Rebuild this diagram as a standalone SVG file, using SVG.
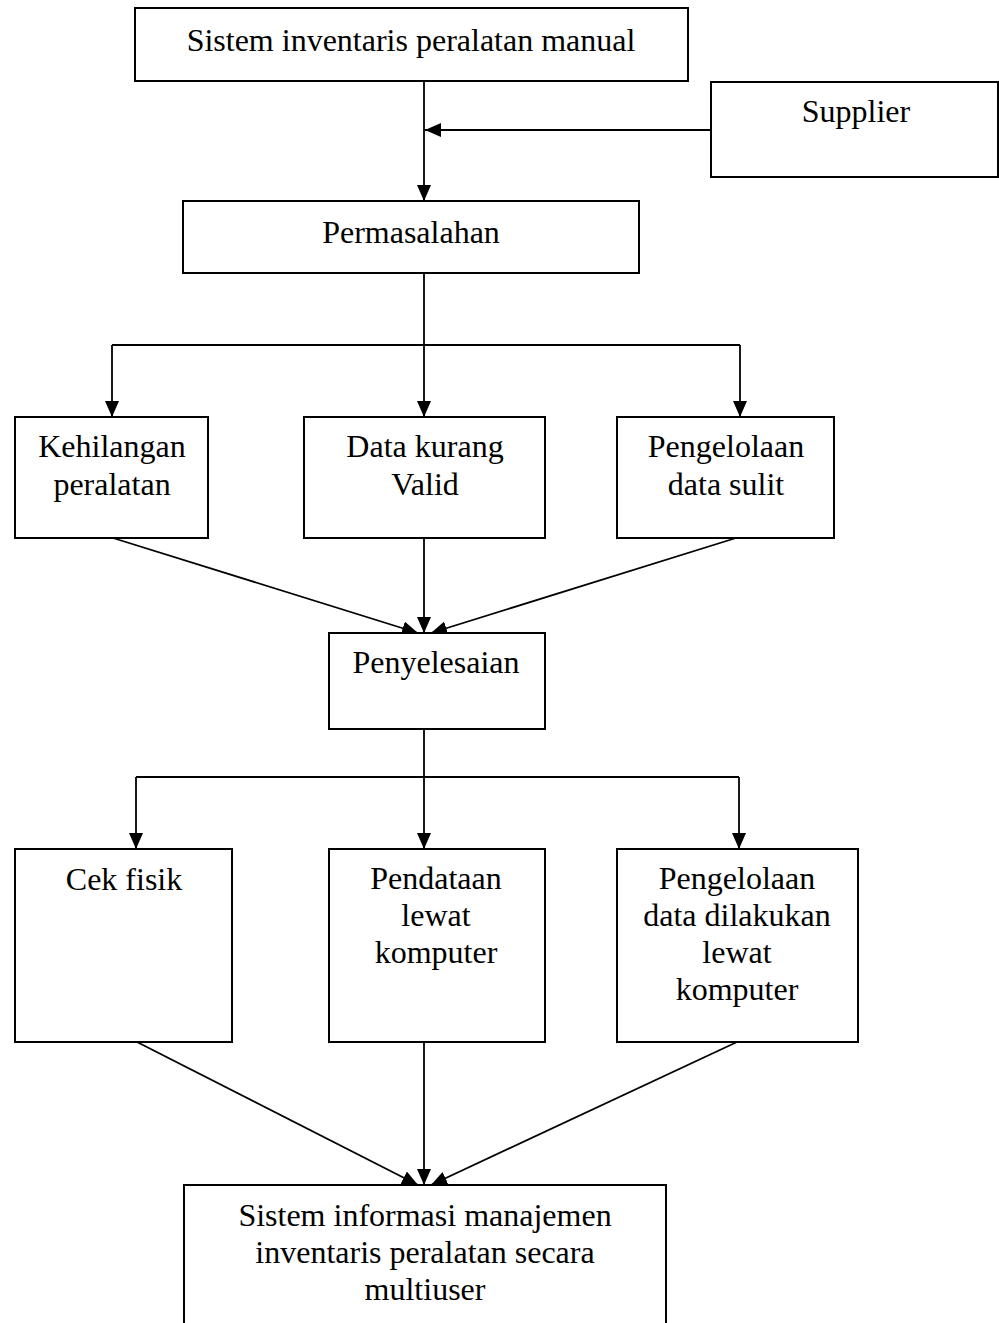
<svg xmlns="http://www.w3.org/2000/svg" width="999" height="1323" viewBox="0 0 999 1323">
<style>
.box{fill:#fff;stroke:#000;stroke-width:2}
.t{font-family:"Liberation Serif","Times New Roman",serif;font-size:32px;fill:#000;text-anchor:middle}
.c{fill:none;stroke:#000;stroke-width:1.8}
</style>
<defs>
<marker id="ah" markerUnits="userSpaceOnUse" markerWidth="18" markerHeight="16" refX="16" refY="7" orient="auto" viewBox="0 0 18 16">
<path d="M0,0 L16,7 L0,14 z" fill="#000"/>
</marker>
</defs>
<rect width="999" height="1323" fill="#fff"/>
<g id="connectors">
<line class="c" x1="424" y1="81" x2="424" y2="201" marker-end="url(#ah)"/>
<line class="c" x1="711" y1="130" x2="425" y2="130" marker-end="url(#ah)"/>
<line class="c" x1="424" y1="273" x2="424" y2="345"/>
<line class="c" x1="112" y1="345" x2="740" y2="345"/>
<line class="c" x1="112" y1="345" x2="112" y2="417" marker-end="url(#ah)"/>
<line class="c" x1="424" y1="345" x2="424" y2="417" marker-end="url(#ah)"/>
<line class="c" x1="740" y1="345" x2="740" y2="417" marker-end="url(#ah)"/>
<line class="c" x1="113" y1="538" x2="418" y2="633" marker-end="url(#ah)"/>
<line class="c" x1="424" y1="538" x2="424" y2="633" marker-end="url(#ah)"/>
<line class="c" x1="736" y1="538" x2="431" y2="633" marker-end="url(#ah)"/>
<line class="c" x1="424" y1="729" x2="424" y2="777"/>
<line class="c" x1="136" y1="777" x2="739" y2="777"/>
<line class="c" x1="136" y1="777" x2="136" y2="849" marker-end="url(#ah)"/>
<line class="c" x1="424" y1="777" x2="424" y2="849" marker-end="url(#ah)"/>
<line class="c" x1="739" y1="777" x2="739" y2="849" marker-end="url(#ah)"/>
<line class="c" x1="137" y1="1042" x2="418" y2="1185" marker-end="url(#ah)"/>
<line class="c" x1="424" y1="1042" x2="424" y2="1185" marker-end="url(#ah)"/>
<line class="c" x1="737" y1="1042" x2="431" y2="1185" marker-end="url(#ah)"/>
</g>
<g id="n-manual">
<rect class="box" x="135" y="8" width="553" height="73"/>
<text class="t" x="411" y="51">Sistem inventaris peralatan manual</text>
</g>
<g id="n-supplier">
<rect class="box" x="711" y="82" width="287" height="95"/>
<text class="t" x="856" y="122">Supplier</text>
</g>
<g id="n-permasalahan">
<rect class="box" x="183" y="201" width="456" height="72"/>
<text class="t" x="411" y="243">Permasalahan</text>
</g>
<g id="n-kehilangan">
<rect class="box" x="15" y="417" width="193" height="121"/>
<text class="t" x="112" y="457">Kehilangan</text>
<text class="t" x="112" y="495">peralatan</text>
</g>
<g id="n-datakurang">
<rect class="box" x="304" y="417" width="241" height="121"/>
<text class="t" x="425" y="457">Data kurang</text>
<text class="t" x="425" y="495">Valid</text>
</g>
<g id="n-pengelolaan1">
<rect class="box" x="617" y="417" width="217" height="121"/>
<text class="t" x="726" y="457">Pengelolaan</text>
<text class="t" x="726" y="495">data sulit</text>
</g>
<g id="n-penyelesaian">
<rect class="box" x="329" y="633" width="216" height="96"/>
<text class="t" x="436" y="673">Penyelesaian</text>
</g>
<g id="n-cekfisik">
<rect class="box" x="15" y="849" width="217" height="193"/>
<text class="t" x="124" y="890">Cek fisik</text>
</g>
<g id="n-pendataan">
<rect class="box" x="329" y="849" width="216" height="193"/>
<text class="t" x="436" y="889">Pendataan</text>
<text class="t" x="436" y="926">lewat</text>
<text class="t" x="436" y="963">komputer</text>
</g>
<g id="n-pengelolaan2">
<rect class="box" x="617" y="849" width="241" height="193"/>
<text class="t" x="737" y="889">Pengelolaan</text>
<text class="t" x="737" y="926">data dilakukan</text>
<text class="t" x="737" y="963">lewat</text>
<text class="t" x="737" y="1000">komputer</text>
</g>
<g id="n-sistem">
<rect class="box" x="184" y="1185" width="482" height="150"/>
<text class="t" x="425" y="1226">Sistem informasi manajemen</text>
<text class="t" x="425" y="1263">inventaris peralatan secara</text>
<text class="t" x="425" y="1300">multiuser</text>
</g>
</svg>
